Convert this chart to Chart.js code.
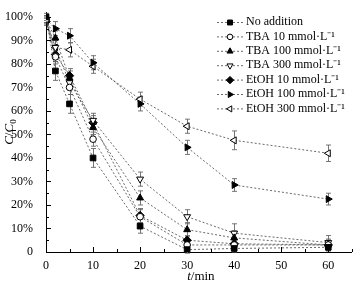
<!DOCTYPE html>
<html><head><meta charset="utf-8">
<script src="https://cdn.jsdelivr.net/npm/chart.js@4"></script>
<style>html,body{margin:0;padding:0;background:#fff;overflow:hidden}</style>
</head><body>
<canvas id="c" width="357" height="285" style="width:357px;height:285px;display:block"></canvas>
<script>
// ---- data ----
const times = [0, 2, 5, 10, 20, 30, 40, 60];
const seriesNames = ['No addition', 'TBA 10 mmol·L⁻¹', 'TBA 100 mmol·L⁻¹', 'TBA 300 mmol·L⁻¹',
                     'EtOH 10 mmol·L⁻¹', 'EtOH 100 mmol·L⁻¹', 'EtOH 300 mmol·L⁻¹'];
const noAddition = [100, 77, 63, 40, 11, 1, 1.5, 2];
const tba10      = [99, 83, 70, 48, 15, 3, 3, 3];
const tba100     = [99, 91, 74, 53, 23, 9.5, 6, 3];
const tba300     = [99, 87, 72, 56, 31, 15, 8, 4];
const etoh10     = [98, 84, 75, 55, 15.5, 5, 3.5, 3];
const etoh100    = [99, 95, 92, 80.5, 63, 44.5, 28.5, 22.5];
const etoh300    = [98, 87, 86, 79, 65, 53.5, 47.5, 42];
const errNoAddition = [1.5, 4, 4, 4, 3, 1.5, 1.5, 1.5];
const errTba10      = [1.5, 3, 3, 3, 3, 2, 2, 2];
const errTba100     = [1.5, 3, 3, 3, 3, 3, 3, 2.5];
const errTba300     = [1.5, 3, 3, 3, 3, 3, 4, 3];
const errEtoh10     = [1.5, 3, 3, 3, 3, 2, 2, 2];
const errEtoh100    = [1.5, 3, 3, 3, 3, 3, 2.7, 2.5];
const errEtoh300    = [1.5, 3, 3, 3, 3, 3, 4, 3.5];
const xTickValues = [0, 10, 20, 30, 40, 50, 60];
const yTickValues = [0, 10, 20, 30, 40, 50, 60, 70, 80, 90, 100];

const allValues = [noAddition, tba10, tba100, tba300, etoh10, etoh100, etoh300];
const allErrors = [errNoAddition, errTba10, errTba100, errTba300, errEtoh10, errEtoh100, errEtoh300];
const markers = [
  {style: 'rect', rot: 0, fill: true, r: 4},
  {style: 'circle', rot: 0, fill: false, r: 3.3},
  {style: 'triangle', rot: 0, fill: true, r: 4},
  {style: 'triangle', rot: 180, fill: false, r: 4},
  {style: 'rectRot', rot: 0, fill: true, r: 4.2},
  {style: 'triangle', rot: 90, fill: true, r: 4},
  {style: 'triangle', rot: -90, fill: false, r: 4}
];
const FONT = '"Liberation Serif", "Times New Roman", serif';

const datasets = allValues.map((vals, i) => ({
  label: seriesNames[i],
  data: times.map((t, k) => ({x: t, y: vals[k]})),
  errors: allErrors[i],
  borderColor: '#444',
  borderWidth: 0.8,
  borderDash: [2, 2],
  pointStyle: markers[i].style,
  pointRotation: markers[i].rot,
  pointRadius: markers[i].r,
  pointHoverRadius: markers[i].r,
  pointBorderColor: '#000',
  pointBorderWidth: 1,
  pointBackgroundColor: markers[i].fill ? '#000' : '#fff',
  tension: 0,
  fill: false
}));

const errorBars = {
  id: 'errorBars',
  beforeDatasetsDraw(chart) {
    const ctx = chart.ctx, xs = chart.scales.x, ys = chart.scales.y;
    ctx.save();
    ctx.strokeStyle = '#666';
    ctx.lineWidth = 0.9;
    chart.data.datasets.forEach(ds => {
      ds.data.forEach((p, k) => {
        const e = ds.errors[k];
        const px = Math.round(xs.getPixelForValue(p.x)) + 0.5;
        const y1 = ys.getPixelForValue(p.y + e), y2 = ys.getPixelForValue(p.y - e);
        ctx.beginPath();
        ctx.moveTo(px, y1); ctx.lineTo(px, y2);
        ctx.moveTo(px - 2.5, y1); ctx.lineTo(px + 2.5, y1);
        ctx.moveTo(px - 2.5, y2); ctx.lineTo(px + 2.5, y2);
        ctx.stroke();
      });
    });
    ctx.restore();
  }
};

const decorations = {
  id: 'decorations',
  afterDraw(chart) {
    const ctx = chart.ctx, xs = chart.scales.x, ys = chart.scales.y, a = chart.chartArea;
    ctx.save();
    ctx.strokeStyle = '#000';
    ctx.lineWidth = 1;
    // inward tick marks
    ctx.beginPath();
    for (let v = 5; v <= 65; v += 5) {
      const px = Math.round(xs.getPixelForValue(v)) + 0.5;
      const len = v % 10 === 0 ? 5 : 3;
      ctx.moveTo(px, a.bottom); ctx.lineTo(px, a.bottom - len);
    }
    for (let v = 5; v <= 100; v += 5) {
      const py = Math.round(ys.getPixelForValue(v)) + 0.5;
      const len = v % 10 === 0 ? 5 : 3;
      ctx.moveTo(a.left, py); ctx.lineTo(a.left + len, py);
    }
    ctx.stroke();

    // axis titles
    ctx.fillStyle = '#000';
    ctx.textBaseline = 'middle';
    // x title: t/min
    const xt = 'italic 13px ' + FONT, xn = '13px ' + FONT;
    ctx.font = xt; const wT = ctx.measureText('t').width;
    ctx.font = xn; const wM = ctx.measureText('/min').width;
    let sx = (a.left + a.right) / 2 - (wT + wM) / 2 + 2;
    const ty = 277;
    ctx.font = xt; ctx.textAlign = 'left'; ctx.fillText('t', sx, ty);
    ctx.font = xn; ctx.fillText('/min', sx + wT, ty);
    // y title: C/C0
    ctx.save();
    ctx.translate(10, (a.top + a.bottom) / 2);
    ctx.rotate(-Math.PI / 2);
    ctx.font = xt; const wC = ctx.measureText('C').width;
    ctx.font = xn; const wS = ctx.measureText('/').width;
    ctx.font = '9px ' + FONT; const w0 = ctx.measureText('0').width;
    let yx = -(wC * 2 + wS + w0) / 2;
    ctx.font = xt; ctx.fillText('C', yx, 0); yx += wC;
    ctx.font = xn; ctx.fillText('/', yx, 0); yx += wS;
    ctx.font = xt; ctx.fillText('C', yx, 0); yx += wC;
    ctx.font = '9px ' + FONT; ctx.fillText('0', yx, 4);
    ctx.restore();

    // legend
    const lx0 = 217, lx1 = 243, tx = 246, ly0 = 22, dy = 14.4;
    chart.data.datasets.forEach((ds, i) => {
      const y = ly0 + i * dy;
      ctx.save();
      ctx.strokeStyle = '#444'; ctx.lineWidth = 0.8; ctx.setLineDash([2, 2]);
      ctx.beginPath(); ctx.moveTo(lx0, y + 0.5); ctx.lineTo(lx1, y + 0.5); ctx.stroke();
      ctx.restore();
      ctx.save();
      ctx.fillStyle = ds.pointBackgroundColor; ctx.strokeStyle = '#000'; ctx.lineWidth = 1;
      Chart.helpers.drawPoint(ctx, {pointStyle: ds.pointStyle, rotation: ds.pointRotation,
        radius: ds.pointRadius - 0.5, borderWidth: 1}, (lx0 + lx1) / 2, y + 0.5);
      ctx.restore();
      ctx.font = '12px ' + FONT; ctx.textAlign = 'left'; ctx.fillStyle = '#000';
      ctx.fillText(ds.label, tx, y);
    });
    ctx.restore();
  }
};

new Chart(document.getElementById('c'), {
  type: 'line',
  data: {datasets},
  options: {
    responsive: false,
    devicePixelRatio: 1,
    animation: false,
    events: [],
    layout: {padding: {top: 5, right: 4, left: 0, bottom: 0}},
    plugins: {legend: {display: false}, tooltip: {enabled: false}, title: {display: false}},
    scales: {
      x: {
        type: 'linear', min: 0, max: 65,
        afterBuildTicks: s => { s.ticks = xTickValues.map(v => ({value: v})); },
        afterFit: s => { s.height = 33; },
        grid: {display: false},
        border: {display: true, color: '#000', width: 1},
        ticks: {color: '#000', font: {family: FONT, size: 12}, padding: -1, maxRotation: 0, autoSkip: false}
      },
      y: {
        type: 'linear', min: 0, max: 102,
        afterBuildTicks: s => { s.ticks = yTickValues.map(v => ({value: v})); },
        afterFit: s => { s.width = 46; },
        grid: {display: false},
        border: {display: true, color: '#000', width: 1},
        ticks: {color: '#000', font: {family: FONT, size: 12}, padding: 5, autoSkip: false,
                callback: v => v === 0 ? '0' : v + '%'}
      }
    }
  },
  plugins: [errorBars, decorations]
});
</script>
</body></html>
